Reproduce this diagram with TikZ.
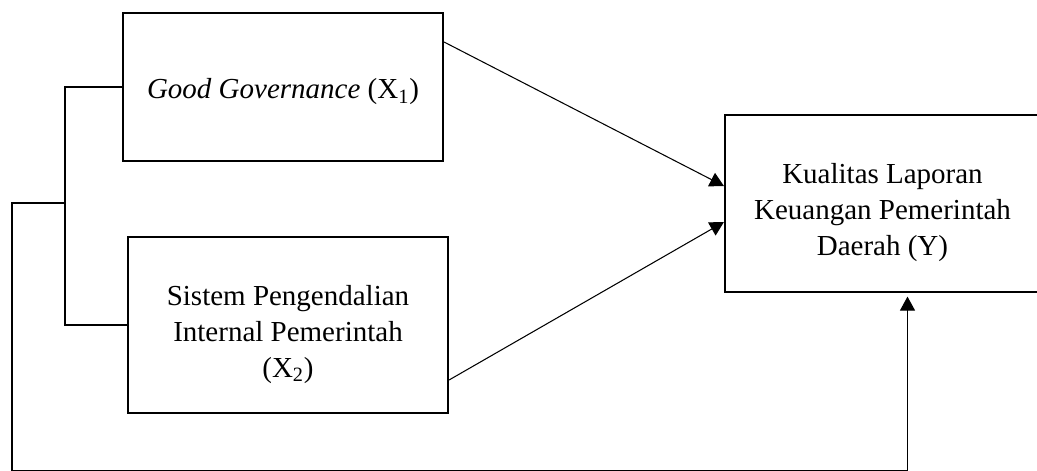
\documentclass[tikz,border=0pt]{standalone}
\usepackage{fontspec}
\setmainfont{Liberation Serif}
\usetikzlibrary{arrows.meta}
\usetikzlibrary{calc}

\newcommand{\lowstrut}[1]{\rule{0pt}{#1}}

\begin{document}
\begin{tikzpicture}[font=\fontsize{16.5}{20.5}\selectfont,
    line width=0.6pt,
    varbox/.style={shape=rectangle,
      draw,
      line width=1.2pt,
      align=center,
      inner sep=0pt},
    link/.style={-{Triangle[length=2.8mm,width=3mm]}}]
    \path [use as bounding box] (0,0) rectangle (20.74,-9.4);

    \node[name=gg,
      varbox,
      minimum width=6.4cm,
      minimum height=2.96cm] at (5.66,-1.74) {\lowstrut{17pt}\textit{Good Governance} (X\textsubscript{1})};

    \node[name=spip,
      varbox,
      minimum width=6.4cm,
      minimum height=3.52cm] at (5.76,-6.5) {\lowstrut{22pt}Sistem Pengendalian\\Internal Pemerintah\\(X\textsubscript{2})};

    \node[name=klkpd,
      varbox,
      minimum width=6.3cm,
      minimum height=3.54cm] at (17.65,-4.07) {\lowstrut{22pt}Kualitas Laporan\\Keuangan Pemerintah\\Daerah (Y)};

    \coordinate (join) at (1.3,-4.06);
    \coordinate (corner) at (0.24,-9.41);

    \path ([yshift=0.9cm]gg.east) edge[link] ([yshift=0.35cm]klkpd.west);
    \path ([yshift=-1.1cm]spip.east) edge[link] ([yshift=-0.37cm]klkpd.west);
    \draw (gg.west) -| (join) |- (spip.west);
    \draw[link, shorten >=2pt] (join) -| (corner) -| ([xshift=0.5cm]klkpd.south);
  \end{tikzpicture}
\end{document}
